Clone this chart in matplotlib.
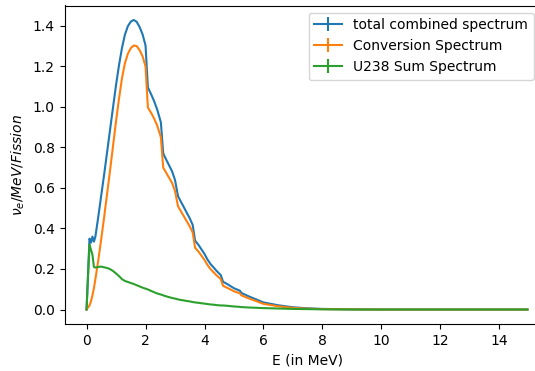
import matplotlib
matplotlib.use("Agg")
import matplotlib.pyplot as plt

# Neutrino energy grid (MeV)
energy = [0, 0.1, 0.15, 0.2, 0.25, 0.3, 0.4, 0.5, 0.6, 0.7, 0.8, 0.9, 1.0, 1.1,
          1.2, 1.3, 1.4, 1.5, 1.6, 1.7, 1.8, 1.9, 2.0, 2.08, 2.2, 2.3, 2.4, 2.52,
          2.6, 2.7, 2.8, 2.9, 3.0, 3.1, 3.2, 3.3, 3.4, 3.5, 3.6, 3.68, 3.8, 3.9,
          4.0, 4.1, 4.2, 4.3, 4.4, 4.55, 4.63, 4.8, 5.0, 5.2, 5.25, 5.5, 6.0, 6.5,
          7.0, 7.5, 8.0, 9.0, 10.0, 11.0, 12.0, 13.0, 14.0, 14.95]

# Combined spectrum (conversion + U238 summation)
total = [0, 0.35, 0.33, 0.36, 0.335, 0.36, 0.46, 0.565, 0.67, 0.78, 0.89, 1.0,
         1.108, 1.205, 1.29, 1.356, 1.398, 1.421, 1.429, 1.42, 1.394, 1.358,
         1.303, 1.096, 1.059, 1.025, 0.985, 0.924, 0.77, 0.74, 0.711, 0.682,
         0.639, 0.56, 0.532, 0.505, 0.477, 0.45, 0.417, 0.34, 0.318, 0.296,
         0.274, 0.247, 0.225, 0.209, 0.192, 0.17, 0.137, 0.123, 0.105, 0.093,
         0.082, 0.065, 0.035, 0.021, 0.011, 0.006, 0.003, 0.001, 0, 0, 0, 0, 0, 0]

# Conversion spectrum
conversion = [0, 0.02, 0.04, 0.07, 0.105, 0.15, 0.245, 0.35, 0.46, 0.575, 0.69,
              0.81, 0.93, 1.04, 1.14, 1.215, 1.262, 1.29, 1.303, 1.30, 1.28,
              1.25, 1.20, 0.997, 0.968, 0.94, 0.906, 0.85, 0.70, 0.675, 0.65,
              0.625, 0.585, 0.51, 0.485, 0.46, 0.435, 0.41, 0.38, 0.305, 0.285,
              0.265, 0.245, 0.22, 0.20, 0.185, 0.17, 0.15, 0.117, 0.105, 0.09,
              0.08, 0.07, 0.055, 0.028, 0.016, 0.008, 0.004, 0.002, 0.001,
              0, 0, 0, 0, 0, 0]

# U238 summation spectrum
u238_sum = [0, 0.32, 0.295, 0.27, 0.21, 0.207, 0.21, 0.212, 0.208, 0.205, 0.199,
            0.19, 0.178, 0.165, 0.15, 0.141, 0.136, 0.131, 0.126, 0.12, 0.114,
            0.108, 0.103, 0.099, 0.091, 0.085, 0.079, 0.074, 0.07, 0.065, 0.061,
            0.057, 0.054, 0.05, 0.047, 0.045, 0.042, 0.04, 0.037, 0.035, 0.033,
            0.031, 0.029, 0.027, 0.025, 0.024, 0.022, 0.02, 0.02, 0.018, 0.015,
            0.013, 0.012, 0.01, 0.007, 0.005, 0.003, 0.002, 0.001, 0,
            0, 0, 0, 0, 0, 0]

# Uncertainties (negligible on this scale)
total_err = [0.0] * len(energy)
conversion_err = [0.0] * len(energy)
u238_err = [0.0] * len(energy)

fig = plt.figure(figsize=(5.35, 3.71), dpi=100)
ax = fig.add_axes([64.5 / 535, 47 / 371, 485 / 535, 318.5 / 371])

ax.errorbar(energy, total, yerr=total_err, label="total combined spectrum")
ax.errorbar(energy, conversion, yerr=conversion_err, label="Conversion Spectrum")
ax.errorbar(energy, u238_sum, yerr=u238_err, label="U238 Sum Spectrum")

ax.set_xlabel("E (in MeV)")
ax.set_ylabel(r"$\nu_e/MeV/Fission$")
ax.set_xticks([0, 2, 4, 6, 8, 10, 12, 14])

# legend pinned inside the right edge of the canvas
ax.legend(loc="upper right", bbox_to_anchor=(533.5 / 535, (371 - 12.5) / 371),
          bbox_transform=fig.transFigure, borderaxespad=0)

fig.savefig("out.png", dpi=100)
